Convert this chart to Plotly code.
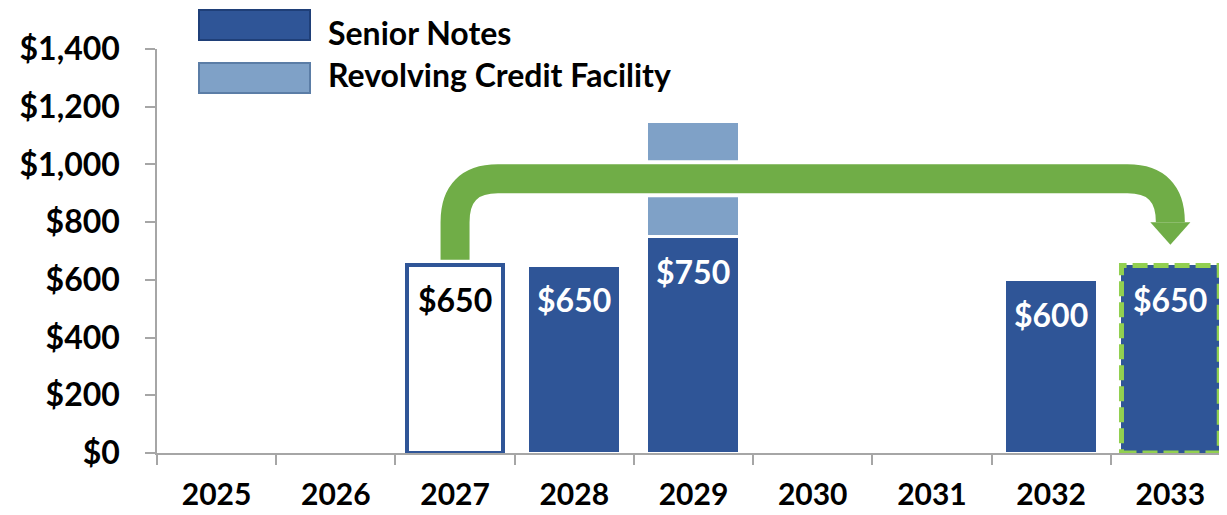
import plotly.graph_objects as go

# ---------------- data ----------------
years = ["2025", "2026", "2027", "2028", "2029", "2030", "2031", "2032", "2033"]
senior_notes = [None, None, 650, 650, 750, None, None, 600, 650]
revolving_credit = [None, None, None, None, 400, None, None, None, None]
series_names = ["Senior Notes", "Revolving Credit Facility"]
y_tick_values = [0, 200, 400, 600, 800, 1000, 1200, 1400]
y_tick_labels = ["$0", "$200", "$400", "$600", "$800", "$1,000", "$1,200", "$1,400"]
refinanced_from = "2027"
refinanced_to = "2033"

# ---------------- styles ----------------
DARK = "#2F5597"
LIGHT = "#7FA1C7"
GREEN = "#70AD47"
LIME = "#92D050"
FONT = "Lato"

fill_colors = ["white" if y == refinanced_from else DARK for y in years]
line_colors = [DARK if y == refinanced_from else "white" for y in years]
line_widths = [4 if y == refinanced_from else (0 if y == refinanced_to else 3) for y in years]
bar_widths = [0.80 if y == refinanced_from else (0.82 if y == refinanced_to else 0.78) for y in years]
label_colors = ["black" if y == refinanced_from else "white" for y in years]

fig = go.Figure()
fig.add_trace(go.Bar(
    x=years, y=senior_notes, name=series_names[0], width=bar_widths,
    marker=dict(color=fill_colors, line=dict(color=line_colors, width=line_widths)),
    hoverinfo="x+y",
))
fig.add_trace(go.Bar(
    x=years, y=revolving_credit, name=series_names[1], width=bar_widths,
    marker=dict(color=LIGHT, line=dict(color="white", width=3)),
    hoverinfo="x+y",
))

# data labels (category index positions on the category axis)
annotations = []
for i, (v, c) in enumerate(zip(senior_notes, label_colors)):
    if v is None:
        continue
    annotations.append(dict(
        x=i, y=v, xref="x", yref="y", text=f"${v:,}", showarrow=False,
        yanchor="top", xanchor="center", yshift=-13,
        font=dict(family=FONT, size=32, color=c, weight="bold"),
    ))

# ---------------- plot geometry (figure coords; page adds 8px body margin) ----------------
OFF = 8
W, H = 1219, 507
L, R, T, B = 149, 1219, 41, 445
def xp(px):  # screen px -> paper
    return (px - OFF - L) / (R - L)
def yp(py):
    return (B - (py - OFF)) / (B - T)

shapes = []
# green dashed outline on refinanced-to bar
i_to = years.index(refinanced_to)
w_to = bar_widths[i_to]
v_to = senior_notes[i_to]
shapes.append(dict(
    type="rect", xref="x", yref="y", x0=i_to - w_to / 2, x1=i_to + w_to / 2, y0=0, y1=v_to,
    line=dict(color=LIME, width=5, dash="15px,6px"), fillcolor="rgba(0,0,0,0)", layer="above",
))

# refinancing arrow (data coordinates)
i_from = years.index(refinanced_from)
arrow_level = 950
arrow_start = 670
head_base = 800
head_tip = 722
rx, ry = 0.36, 150
hw = 0.168
path = (f"M {i_from},{arrow_start} L {i_from},{arrow_level - ry} "
        f"Q {i_from},{arrow_level} {i_from + rx},{arrow_level} "
        f"L {i_to - rx},{arrow_level} Q {i_to},{arrow_level} {i_to},{arrow_level - ry} "
        f"L {i_to},{head_base}")
shapes.append(dict(type="path", xref="x", yref="y", path=path,
                   line=dict(color="white", width=37), layer="above"))
shapes.append(dict(type="path", xref="x", yref="y", path=path,
                   line=dict(color=GREEN, width=29), layer="above"))
shapes.append(dict(type="path", xref="x", yref="y",
                   path=f"M {i_to - hw},{head_base} L {i_to + hw},{head_base} L {i_to},{head_tip} Z",
                   fillcolor=GREEN, line=dict(width=0), layer="above"))

# custom legend
legend_items = [
    (series_names[0], DARK, "#1F3F78", 10, 40, 33),
    (series_names[1], LIGHT, "#5B7DA6", 63, 93, 75),
]
for name, fc, lc, top, bot, tc in legend_items:
    shapes.append(dict(type="rect", xref="paper", yref="paper",
                       x0=xp(199), x1=xp(310), y0=yp(bot), y1=yp(top),
                       fillcolor=fc, line=dict(color=lc, width=2)))
    annotations.append(dict(
        x=xp(326), y=yp(tc), xref="paper", yref="paper", text=name, showarrow=False,
        xanchor="left", yanchor="middle",
        font=dict(family=FONT, size=32, color="black", weight="bold"),
    ))

fig.update_layout(
    width=W, height=H,
    margin=dict(l=L, r=W - R, t=T, b=H - B),
    barmode="stack", showlegend=False,
    plot_bgcolor="white", paper_bgcolor="white",
    shapes=shapes, annotations=annotations,
    font=dict(family=FONT),
    xaxis=dict(
        type="category", categoryorder="array", categoryarray=years,
        range=[-0.5, 8.475], showgrid=False, zeroline=False, automargin=False,
        showline=True, linecolor="#A6A6A6", linewidth=1.5,
        ticks="outside", tickson="boundaries", ticklen=10, tickcolor="#A6A6A6", tickwidth=1.5,
        tickfont=dict(family=FONT, size=30, color="black", weight="bold"),
        ticklabelstandoff=14,
    ),
    yaxis=dict(
        range=[0, 1400], tickvals=y_tick_values, ticktext=y_tick_labels,
        showgrid=False, zeroline=False, automargin=False,
        showline=True, linecolor="#A6A6A6", linewidth=1.5,
        ticks="outside", ticklen=10, tickcolor="#A6A6A6", tickwidth=1.5,
        tickfont=dict(family=FONT, size=32, color="black", weight="bold"),
        ticklabelstandoff=19,
    ),
)

fig.write_html("out.html")
